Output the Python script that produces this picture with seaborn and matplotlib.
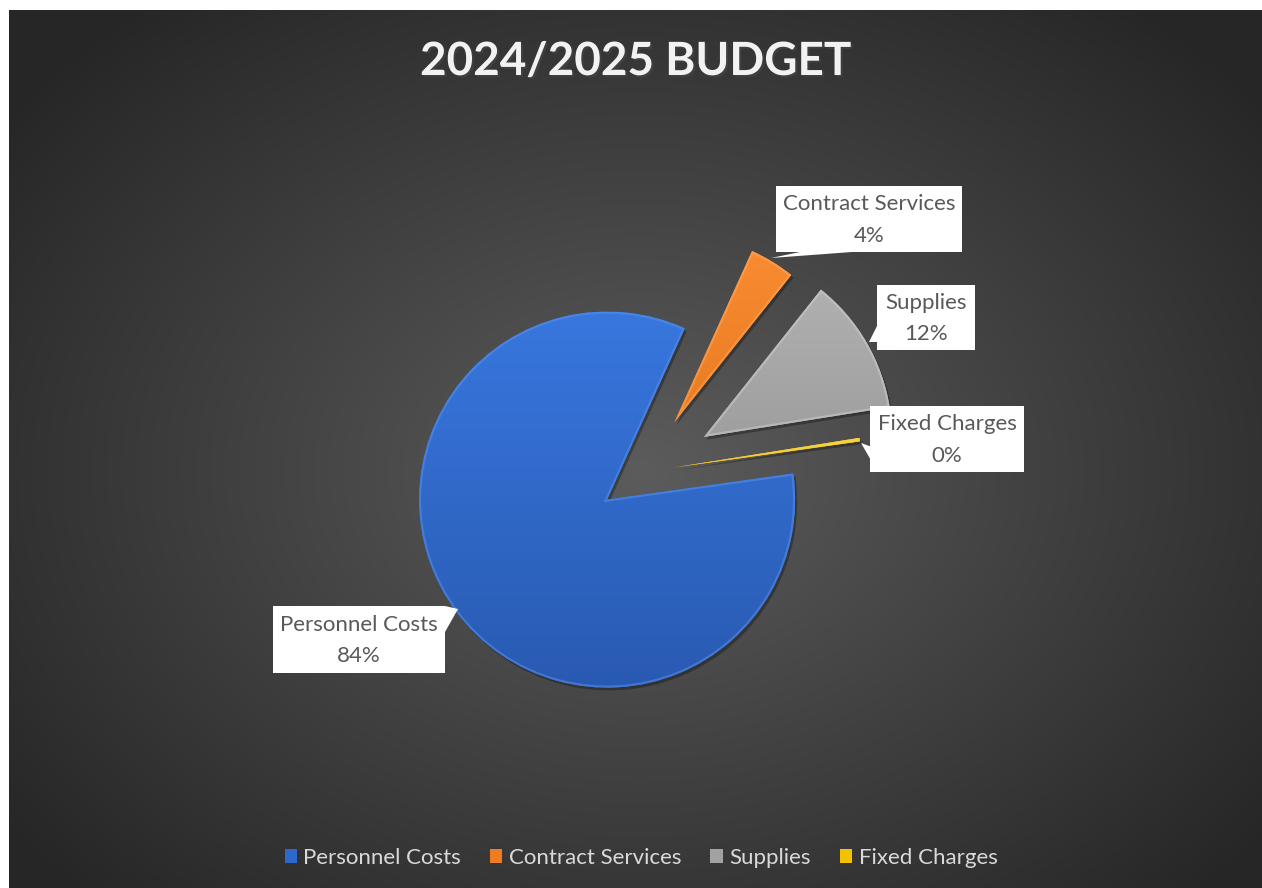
import numpy as np
import matplotlib
matplotlib.use("Agg")
import matplotlib.pyplot as plt
import matplotlib.patheffects as pe
from matplotlib.colors import LinearSegmentedColormap
from matplotlib.patches import Polygon, Rectangle, Patch, Wedge
import seaborn as sns

# 数据
categories = ["Personnel Costs", "Contract Services", "Supplies", "Fixed Charges"]
shares = [84.0, 3.9, 11.8, 0.3]
title = "2024/2025 BUDGET"

# 样式
sns.set_theme(style="white")
plt.rcParams["font.family"] = ["Lato", "DejaVu Sans"]

base_colors = sns.color_palette(["#2f68cb", "#ed7d1f", "#a2a2a2", "#f2c200"])
grad_colors = [("#3877de", "#295ab2"), ("#fa8d33", "#d8680f"),
               ("#b4b4b4", "#8a8a8a"), ("#ffd21e", "#d6a400")]
rim_colors = ["#5b93ef", "#ffa95e", "#cfcfcf", "#ffe36a"]
explode = [0.245, 0.31, 0.37, 0.16]

# 画布和像素坐标换算
W, H = 1262, 888
CX, CY, R = 644, 472, 188

def px(x, y):
    return ((x - CX) / R, (CY - y) / R)

fig = plt.figure(figsize=(W / 100, H / 100), dpi=100)
fig.patch.set_facecolor("white")
ax = fig.add_axes([0, 0, 1, 1])

# 径向渐变背景
gx, gy = np.meshgrid(np.arange(9, W), np.arange(10, H))
t = np.clip(np.sqrt(((gx - 640) / 800.0) ** 2 + ((gy - 470) / 600.0) ** 2), 0, 1)
c0, c1 = 92 / 255, 38 / 255
bg = c0 * (1 - t) + c1 * t
bg_rgb = np.dstack([bg, bg, bg])
l, b = px(9, H)
r_, t_ = px(W, 10)
ax.imshow(bg_rgb, extent=(l, r_, b, t_), aspect="auto", zorder=0, interpolation="bilinear")

# 饼图
wedges, _ = ax.pie(shares, explode=explode, startangle=8, counterclock=False,
                   colors=base_colors, radius=1,
                   wedgeprops=dict(linewidth=0, zorder=1))
for w in wedges:
    w.set_path_effects([pe.SimplePatchShadow(offset=(1.5, -2), alpha=0.3, shadow_rgbFace="black"), pe.Normal()])

for w, (c_top, c_bot), rim in zip(wedges, grad_colors, rim_colors):
    cmap = LinearSegmentedColormap.from_list("g", [c_bot, c_top])
    cx, cy = w.center
    rr = w.r
    grad = np.linspace(1, 0, 256).reshape(-1, 1)
    im = ax.imshow(grad, cmap=cmap, vmin=0, vmax=1, aspect="auto",
                   extent=(cx - rr, cx + rr, cy - rr, cy + rr), zorder=2,
                   interpolation="bilinear")
    im.set_clip_path(w)
    # 斜面高光边
    edge = Wedge((cx, cy), rr, w.theta1, w.theta2, facecolor="none",
                 edgecolor=rim, linewidth=3, alpha=0.5, zorder=3)
    ax.add_patch(edge)
    edge.set_clip_path(w)

ax.set_xlim(-CX / R, (W - CX) / R)
ax.set_ylim((CY - H) / R, CY / R)
ax.set_aspect("auto")
ax.axis("off")

# 数据标签 (白色标注框)
label_boxes = [(273, 606, 445, 673), (776, 186, 962, 252),
               (877, 285, 975, 350), (870, 406, 1024, 472)]
pointers = [[(445, 606), (458, 609), (445, 632)],
            [(771, 258), (800, 252), (852, 252)],
            [(877, 326), (869, 342), (877, 342)],
            [(861, 443), (872, 447), (872, 462)]]

for name, val, box, ptr in zip(categories, shares, label_boxes, pointers):
    x0, y0, x1, y1 = box
    bl = px(x0, y1)
    tr = px(x1, y0)
    ax.add_patch(Rectangle(bl, tr[0] - bl[0], tr[1] - bl[1], facecolor="white",
                           edgecolor="none", zorder=4))
    ax.add_patch(Polygon([px(*p) for p in ptr], closed=True, facecolor="white",
                         edgecolor="none", zorder=4))
    tx, ty = px((x0 + x1) / 2, (y0 + y1) / 2 + 1)
    ax.text(tx, ty, f"{name}\n{round(val):.0f}%", ha="center", va="center",
            fontsize=16, color="#595959", linespacing=1.72, zorder=5)

# 标题
fig.text(636 / W, 1 - 62 / H, title, ha="center", va="center", fontsize=33,
         fontweight="bold", color="#f2f2f2",
         path_effects=[pe.SimplePatchShadow(offset=(1.5, -1.5), alpha=0.5), pe.Normal()])

# 图例
handles = [Patch(facecolor=c, edgecolor="none") for c in base_colors]
fig.legend(handles, categories, loc="center", bbox_to_anchor=(641 / W, 1 - 858 / H),
           ncol=4, frameon=False, fontsize=16, labelcolor="#d9d9d9",
           handlelength=0.55, handleheight=0.55, handletextpad=0.3,
           columnspacing=1.3)

fig.savefig("out.png", dpi=100, facecolor=fig.get_facecolor())
plt.close(fig)
